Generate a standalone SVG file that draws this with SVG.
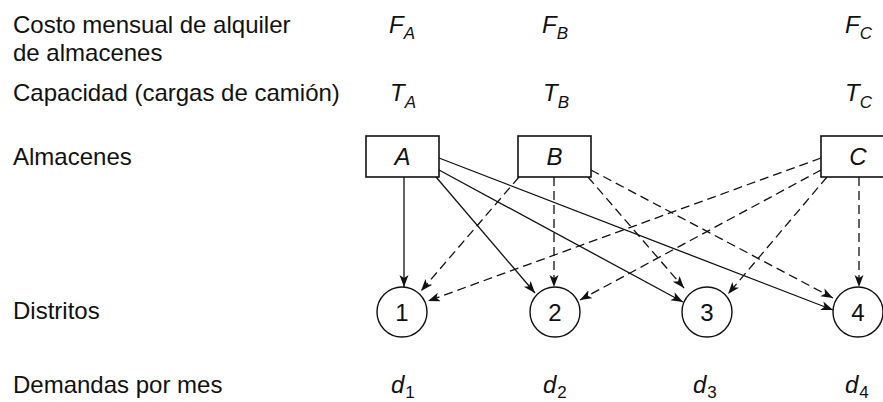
<svg xmlns="http://www.w3.org/2000/svg" width="883" height="402" viewBox="0 0 883 402">
<defs>
<style>
text{font-family:"Liberation Sans",Arial,sans-serif;fill:#111;}
.lbl{font-size:24px;}
.it{font-size:24px;font-style:italic;}
.sub{font-size:17px;font-style:italic;}
.subn{font-size:17px;font-style:normal;}
.num{font-size:24px;}
.box{fill:#fff;stroke:#111;stroke-width:1.6;}
.circ{fill:#fff;stroke:#111;stroke-width:1.4;}
.e{fill:none;stroke:#111;stroke-width:1.3;marker-end:url(#ah);}
.d{stroke-dasharray:9,5;}
</style>
<marker id="ah" markerUnits="userSpaceOnUse" markerWidth="13" markerHeight="10" refX="12" refY="4.5" orient="auto">
<path d="M0,0 L12,4.5 L0,9 L3,4.5 z" fill="#111"/>
</marker>
</defs>
<rect width="883" height="402" fill="#fff"/>
<g id="labels">
<text class="lbl" x="13" y="33">Costo mensual de alquiler</text>
<text class="lbl" x="13" y="61">de almacenes</text>
<text class="lbl" x="13" y="101">Capacidad (cargas de camión)</text>
<text class="lbl" x="13" y="165">Almacenes</text>
<text class="lbl" x="13" y="319">Distritos</text>
<text class="lbl" x="13" y="393">Demandas por mes</text>
</g>
<g id="params">
<text class="it" x="389" y="33">F<tspan class="sub" dy="6">A</tspan></text>
<text class="it" x="542" y="33">F<tspan class="sub" dy="6">B</tspan></text>
<text class="it" x="845" y="33">F<tspan class="sub" dy="6">C</tspan></text>
<text class="it" x="390" y="101">T<tspan class="sub" dy="7">A</tspan></text>
<text class="it" x="543" y="101">T<tspan class="sub" dy="7">B</tspan></text>
<text class="it" x="845" y="101">T<tspan class="sub" dy="7">C</tspan></text>
<text class="it" x="391" y="393">d<tspan class="subn" dx="1" dy="5">1</tspan></text>
<text class="it" x="543" y="393">d<tspan class="subn" dx="1" dy="5">2</tspan></text>
<text class="it" x="693" y="393">d<tspan class="subn" dx="1" dy="5">3</tspan></text>
<text class="it" x="845" y="393">d<tspan class="subn" dx="1" dy="5">4</tspan></text>
</g>
<g id="connectors">
<line class="e" x1="404" y1="177" x2="404" y2="287"/>
<line class="e" x1="436" y1="177" x2="535" y2="293"/>
<line class="e" x1="439" y1="170" x2="683" y2="302"/>
<line class="e" x1="439" y1="158" x2="833" y2="310"/>
<line class="e d" x1="519" y1="177" x2="421" y2="291"/>
<line class="e d" x1="554" y1="177" x2="554" y2="287"/>
<line class="e d" x1="588" y1="177" x2="684" y2="288"/>
<line class="e d" x1="591" y1="170" x2="833" y2="298"/>
<line class="e d" x1="821" y1="158" x2="428" y2="301"/>
<line class="e d" x1="821" y1="170" x2="580" y2="300"/>
<line class="e d" x1="827" y1="177" x2="728" y2="294"/>
<line class="e d" x1="859" y1="177" x2="859" y2="287"/>
</g>
<g id="A"><rect class="box" x="366" y="136" width="73" height="41"/><text class="it" x="402.5" y="165" text-anchor="middle">A</text></g>
<g id="B"><rect class="box" x="518" y="136" width="73" height="41"/><text class="it" x="554.5" y="165" text-anchor="middle">B</text></g>
<g id="C"><rect class="box" x="821" y="136" width="73" height="41"/><text class="it" x="858" y="165" text-anchor="middle">C</text></g>
<g id="d1"><circle class="circ" cx="402" cy="312" r="25"/><text class="num" x="402" y="320.5" text-anchor="middle">1</text></g>
<g id="d2"><circle class="circ" cx="555" cy="312" r="25"/><text class="num" x="555" y="320.5" text-anchor="middle">2</text></g>
<g id="d3"><circle class="circ" cx="707" cy="312" r="25"/><text class="num" x="707" y="320.5" text-anchor="middle">3</text></g>
<g id="d4"><circle class="circ" cx="858" cy="312" r="25"/><text class="num" x="858" y="320.5" text-anchor="middle">4</text></g>
</svg>
